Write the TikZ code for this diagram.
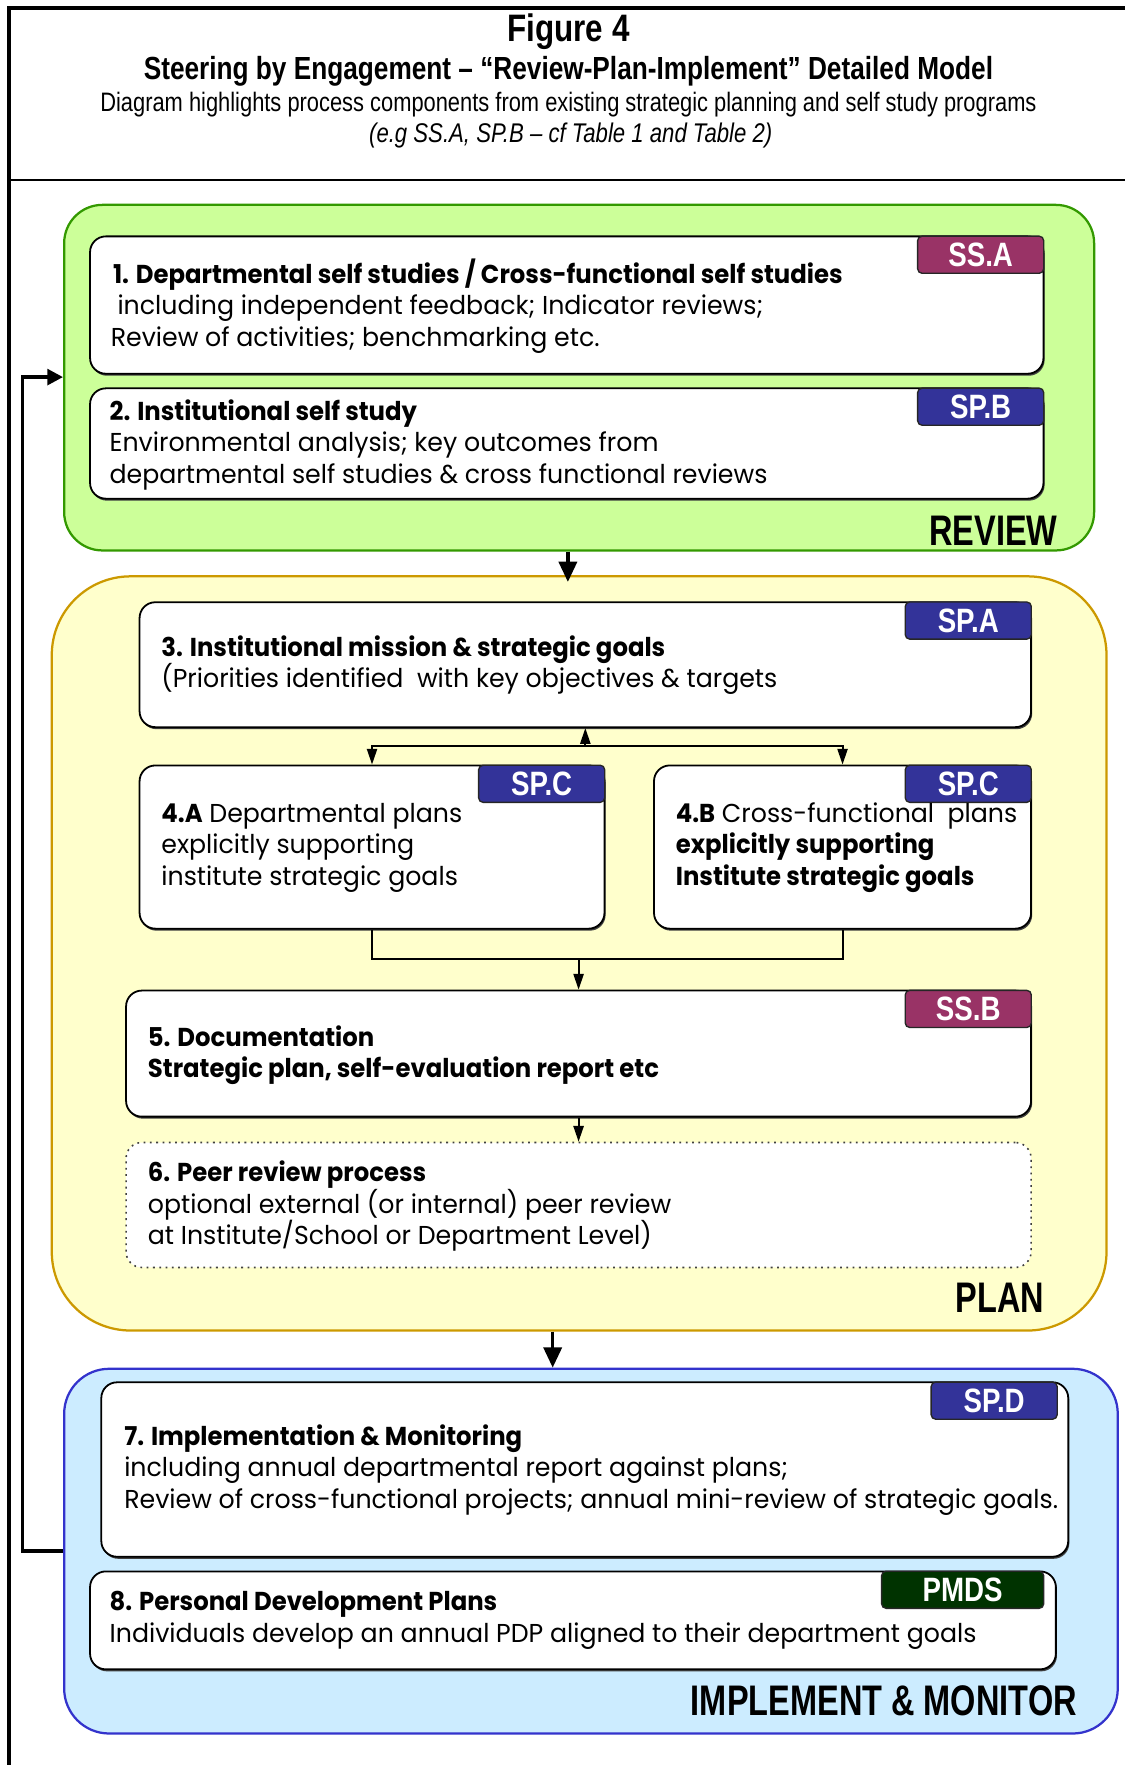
\documentclass[tikz,border=0pt]{standalone}
\usepackage{fontspec}
\setmainfont{Poppins}[FakeStretch=0.975, BoldFeatures={FakeStretch=0.94}]
\newfontfamily\narrowfont{Liberation Sans}[FakeStretch=0.82]
\newfontfamily\labelfont{Liberation Sans}[FakeStretch=0.76]
\usetikzlibrary{fit,arrows.meta,shadows}
\definecolor{revfill}{HTML}{CCFF99}
\definecolor{revline}{HTML}{339900}
\definecolor{planfill}{HTML}{FFFFCC}
\definecolor{planline}{HTML}{CC9900}
\definecolor{impfill}{HTML}{CCECFF}
\definecolor{impline}{HTML}{3333CC}
\definecolor{maroonb}{HTML}{993366}
\definecolor{navyb}{HTML}{333399}
\definecolor{greenb}{HTML}{003300}
\newcommand\mybody{\fontsize{11.5}{14}\selectfont}
\newcommand\mybadge{\narrowfont\bfseries\fontsize{15}{15}\selectfont}
\newcommand\myreg{\labelfont\bfseries\fontsize{19}{19}\selectfont}
\tikzset{
 region/.style={draw, line width=1pt, inner sep=0pt},
 box/.style={draw=black, fill=white, line width=0.8pt, rounded corners=7pt, inner sep=0pt},
 shadowed/.style={drop shadow={shadow xshift=0.5pt, shadow yshift=-0.9pt, fill=black!75, opacity=1}},
 badge/.style={draw=black!85, line width=0.6pt, rounded corners=2pt, text=white, font=\mybadge, minimum width=56pt, minimum height=16.5pt, inner sep=0pt, anchor=north east},
 txt/.style={align=left, inner sep=0pt, anchor=west, font=\mybody},
 reglabel/.style={inner sep=0pt, anchor=base east, font=\myreg},
 bigarrow/.style={line width=1.6pt, -{Triangle[length=9pt,width=8pt]}},
 arr/.style={line width=0.9pt, -{Triangle[length=7pt,width=4.5pt]}},
 conn/.style={line width=0.9pt},
}
\begin{document}
\begin{tikzpicture}[x=0.5pt,y=-0.5pt]
\useasboundingbox (0,0) rectangle (999,1568);
% frame
\draw[line width=1.6pt] (8,1568) -- (8,7) -- (999,7);
\draw[line width=1.2pt] (8,160) -- (999,160);
% titles
\node[inner sep=0pt] (tfig) at (505,28) {\narrowfont\bfseries\fontsize{17}{20}\selectfont Figure 4};
\node[inner sep=0pt] (tsub) at (505,63) {\narrowfont\bfseries\fontsize{14.2}{17}\selectfont Steering by Engagement – “Review-Plan-Implement” Detailed Model};
\node[inner sep=0pt] (tdesc) at (505,93) {\narrowfont\fontsize{11.85}{14}\selectfont Diagram highlights process components from existing strategic planning and self study programs};
\node[inner sep=0pt] (tnote) at (507,120) {\narrowfont\itshape\fontsize{12}{14}\selectfont (e.g SS.A, SP.B – cf Table 1 and Table 2)};
% regions
\node[region, draw=revline, fill=revfill, rounded corners=17pt, fit={(57,182) (972,489)}] (review) {};
\node[region, draw=planline, fill=planfill, rounded corners=35pt, fit={(46,512) (983,1182)}] (plan) {};
\node[region, draw=impline, fill=impfill, rounded corners=20pt, fit={(57,1216) (993,1540)}] (implement) {};
% boxes
\node[box, shadowed, fit={(80,210) (927,332)}] (b1) {};
\node[box, shadowed, fit={(80,345) (927,443)}] (b2) {};
\node[box, shadowed, fit={(124,535) (916,646)}] (b3) {};
\node[box, shadowed, fit={(124,680) (537,825)}] (b4a) {};
\node[box, shadowed, fit={(581,680) (916,825)}] (b4b) {};
\node[box, shadowed, fit={(112,880) (916,992)}] (b5) {};
\node[box, draw=black!75, dotted, line width=0.7pt, fit={(112,1015) (916,1126)}] (b6) {};
\node[box, shadowed, fit={(90,1228) (949,1383)}] (b7) {};
\node[box, shadowed, fit={(80,1396) (938,1483)}] (b8) {};
% badges
\node[badge, fill=maroonb] (g1) at (b1.north east) {SS.A};
\node[badge, fill=navyb] (g2) at (b2.north east) {SP.B};
\node[badge, fill=navyb] (g3) at (b3.north east) {SP.A};
\node[badge, fill=navyb] (g4a) at (b4a.north east) {SP.C};
\node[badge, fill=navyb] (g4b) at (b4b.north east) {SP.C};
\node[badge, fill=maroonb] (g5) at (b5.north east) {SS.B};
\node[badge, fill=navyb] (g7) at ([xshift=-5pt]b7.north east) {SP.D};
\node[badge, fill=greenb, minimum width=72pt] (g8) at ([xshift=-5.5pt]b8.north east) {PMDS};
% texts
\node[txt] (x1) at (98,272) {\hspace*{1pt}\textbf{1. Departmental self studies / Cross-functional self studies}\\\hspace*{3pt}including independent feedback; Indicator reviews;\\Review of activities; benchmarking etc.};
\node[txt] (x2) at (97,395) {\textbf{2. Institutional self study}\\Environmental analysis; key outcomes from\\departmental self studies \& cross functional reviews};
\node[txt] (x3) at (143,591) {\textbf{3. Institutional mission \& strategic goals}\\(Priorities identified\ \ with key objectives \& targets};
\node[txt] (x4a) at (143,753) {\textbf{4.A} Departmental plans\\explicitly supporting\\institute strategic goals};
\node[txt] (x4b) at (600,753) {\textbf{4.B} Cross-functional\ \ plans\\\textbf{explicitly supporting}\\\textbf{Institute strategic goals}};
\node[txt] (x5) at (131,937.5) {\textbf{5. Documentation}\\\textbf{Strategic plan, self-evaluation report etc}};
\node[txt] (x6) at (131,1071.5) {\textbf{6. Peer review process}\\optional external (or internal) peer review\\at Institute/School or Department Level)};
\node[txt] (x7) at (110,1306) {\textbf{7. Implementation \& Monitoring}\\including annual departmental report against plans;\\Review of cross-functional projects; annual mini-review of strategic goals.};
\node[txt] (x8) at (97,1439.5) {\textbf{8. Personal Development Plans}\\Individuals develop an annual PDP aligned to their department goals};
% region labels
\node[reglabel] (lrev) at (940,485) {REVIEW};
\node[reglabel] (lplan) at (928,1166) {PLAN};
\node[reglabel] (limp) at (957,1524) {IMPLEMENT \& MONITOR};
% connectors
\draw[bigarrow] ([xshift=-5pt]review.south) -- ([xshift=-5pt,yshift=-3pt]plan.north);
\coordinate (ax) at (491,0);
\draw[bigarrow] (plan.south -| ax) -- (implement.north -| ax);
\coordinate (j1) at (520,663);
\draw[arr] (j1) -- (b3.south);
\draw[arr] (j1) -| (b4a.north);
\draw[arr] (j1) -| (b4b.north);
\coordinate (j2) at (514,852);
\draw[conn] (b4a.south) |- (b4b.south |- j2) -- (b4b.south);
\draw[arr] (j2) -- (b5.north);
\draw[arr] (b5.south) -- (b6.north);
\coordinate (f1) at (20,1378);
\coordinate (f2) at (20,335);
\draw[line width=1.6pt, -{Triangle[length=7pt,width=7pt]}] (implement.west |- f1) -- (f1) -- (f2) -- (review.west |- f2);
\end{tikzpicture}
\end{document}
